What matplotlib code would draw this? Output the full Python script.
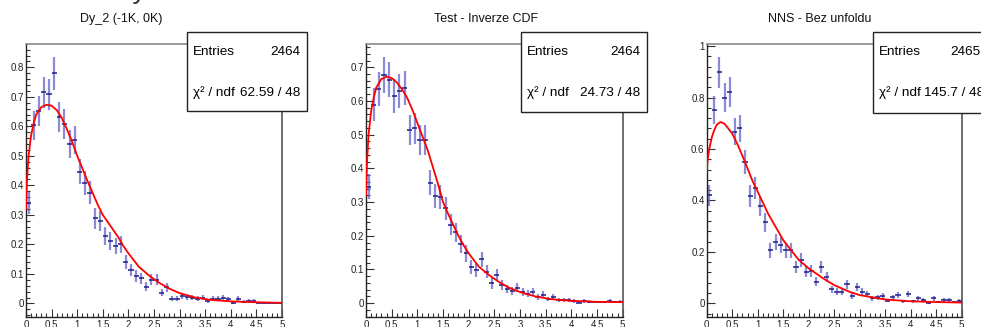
import matplotlib
matplotlib.use("Agg")
import matplotlib.pyplot as plt
import numpy as np
from matplotlib.patches import Rectangle
from matplotlib.ticker import MultipleLocator

plt.rcParams['font.family'] = ['Liberation Sans', 'DejaVu Sans']

W, H = 981, 327

# ---------------- data ----------------
bin_edges = np.linspace(0.0, 5.0, 51)
bin_centers = 0.5 * (bin_edges[:-1] + bin_edges[1:])
bin_width = 0.1

titles = ["Dy_2 (-1K, 0K)", "Test - Inverze CDF", "NNS - Bez unfoldu"]
entries = [2464, 2464, 2465]
chi2_texts = ["62.59 / 48", "24.73 / 48", "145.7 / 48"]

values_dy2 = [0.34, 0.604, 0.652, 0.715, 0.708, 0.78, 0.633, 0.608, 0.54, 0.554,
              0.446, 0.407, 0.375, 0.288, 0.28, 0.228, 0.212, 0.194, 0.2, 0.141,
              0.113, 0.093, 0.085, 0.056, 0.081, 0.081, 0.036, 0.054, 0.016, 0.016,
              0.026, 0.022, 0.02, 0.016, 0.019, 0.009, 0.016, 0.016, 0.019, 0.014,
              0.002, 0.016, 0.006, 0.009, 0.009, 0.003, 0.003, 0.003, 0.003, 0.003]

values_cdf = [0.346, 0.589, 0.635, 0.677, 0.663, 0.615, 0.63, 0.638, 0.514, 0.519,
              0.483, 0.485, 0.358, 0.319, 0.316, 0.282, 0.233, 0.21, 0.176, 0.148,
              0.107, 0.099, 0.13, 0.094, 0.059, 0.084, 0.054, 0.042, 0.037, 0.046,
              0.034, 0.028, 0.034, 0.018, 0.025, 0.012, 0.018, 0.01, 0.009, 0.009,
              0.007, 0.002, 0.006, 0.004, 0.003, 0.003, 0.003, 0.007, 0.003, 0.004]

values_nns = [0.42, 0.751, 0.898, 0.80, 0.822, 0.667, 0.68, 0.55, 0.417, 0.447,
              0.378, 0.315, 0.207, 0.237, 0.227, 0.207, 0.207, 0.142, 0.168, 0.123,
              0.125, 0.084, 0.14, 0.103, 0.054, 0.045, 0.045, 0.074, 0.028, 0.064,
              0.045, 0.036, 0.019, 0.024, 0.028, 0.01, 0.024, 0.032, 0.008, 0.036,
              0.008, 0.019, 0.012, 0.002, 0.019, 0.005, 0.012, 0.012, 0.005, 0.01]

# fitted curves
fit_x_dy2 = [0.0, 0.02, 0.05, 0.1, 0.15, 0.2, 0.3, 0.4, 0.5, 0.6, 0.7, 0.8, 0.9, 1.0,
             1.1, 1.2, 1.3, 1.4, 1.5, 1.6, 1.7, 1.8, 1.9, 2.0, 2.2, 2.4, 2.6, 2.8,
             3.0, 3.3, 3.6, 4.0, 4.5, 5.0]
fit_y_dy2 = [0.32, 0.42, 0.50, 0.57, 0.61, 0.64, 0.665, 0.673, 0.67, 0.655, 0.628,
             0.59, 0.548, 0.50, 0.458, 0.415, 0.375, 0.335, 0.30, 0.275, 0.25, 0.225,
             0.195, 0.17, 0.125, 0.095, 0.07, 0.05, 0.035, 0.02, 0.012, 0.007, 0.004,
             0.002]

fit_x_cdf = [0.0, 0.02, 0.05, 0.1, 0.15, 0.2, 0.3, 0.4, 0.5, 0.6, 0.7, 0.8, 0.9, 1.0,
             1.1, 1.2, 1.3, 1.4, 1.5, 1.6, 1.7, 1.8, 1.9, 2.0, 2.2, 2.4, 2.6, 2.8,
             3.0, 3.3, 3.6, 4.0, 4.5, 5.0]
fit_y_cdf = [0.32, 0.42, 0.50, 0.57, 0.61, 0.64, 0.665, 0.672, 0.668, 0.655, 0.635,
             0.61, 0.575, 0.535, 0.495, 0.455, 0.405, 0.355, 0.30, 0.265, 0.232, 0.2,
             0.172, 0.148, 0.108, 0.083, 0.062, 0.045, 0.033, 0.02, 0.012, 0.007,
             0.004, 0.003]

fit_x_nns = [0.0, 0.02, 0.05, 0.1, 0.15, 0.2, 0.27, 0.35, 0.5, 0.6, 0.75, 0.9, 1.0,
             1.2, 1.5, 1.8, 2.0, 2.3, 2.5, 2.8, 3.0, 3.5, 4.0, 4.5, 5.0]
fit_y_nns = [0.51, 0.56, 0.60, 0.645, 0.675, 0.695, 0.705, 0.698, 0.66, 0.62, 0.55,
             0.475, 0.434, 0.35, 0.246, 0.17, 0.136, 0.095, 0.071, 0.045, 0.032,
             0.015, 0.008, 0.005, 0.003]

panels = [
    dict(values=values_dy2, fx=fit_x_dy2, fy=fit_y_dy2, ylim=(-0.046, 0.879),
         major=0.1, minor=0.02, ax_px=(26, 282), box=(187.3, 31.7, 307.3, 111),
         title_x=121.5, rx_e=300.7, rx_c=300.7),
    dict(values=values_cdf, fx=fit_x_cdf, fy=fit_y_cdf, ylim=(-0.041, 0.769),
         major=0.1, minor=0.02, ax_px=(366, 622.7), box=(521, 31.7, 647.3, 112),
         title_x=486.5, rx_e=640, rx_c=640),
    dict(values=values_nns, fx=fit_x_nns, fy=fit_y_nns, ylim=(-0.053, 1.008),
         major=0.2, minor=0.04, ax_px=(706.7, 961.7), box=(873.3, 31.7, 1000, 113),
         title_x=819.7, rx_e=981, rx_c=984),
]

fig = plt.figure(figsize=(W / 100, H / 100), dpi=100)
fig.patch.set_facecolor('white')

ax_top, ax_bot = 44, 317


def fx(px):
    return px / W


def fy(py):
    return 1 - py / H


# heading that is cut off at the very top of the picture
fig.text(fx(0), fy(-1.5), "Srovnání vyrovnání na datasu", fontsize=20,
         color='#333333', ha='left', va='baseline')

for i, p in enumerate(panels):
    l, r = p['ax_px']
    ax = fig.add_axes([fx(l), fy(ax_bot), (r - l) / W, (ax_bot - ax_top) / H])
    vals = np.array(p['values'])
    n = entries[i] * bin_width
    err = np.sqrt(vals * n) / n
    ax.errorbar(bin_centers, vals, yerr=err, fmt='none', ecolor='#6464c8',
                elinewidth=1.6, alpha=0.75, capsize=0, zorder=2)
    ax.errorbar(bin_centers, vals, xerr=bin_width / 2, fmt='none',
                ecolor='#1c1c8a', elinewidth=1.1, capsize=0, zorder=3)
    ax.plot(p['fx'], p['fy'], color='#ff0000', lw=1.3, zorder=4,
            solid_capstyle='round', solid_joinstyle='round')
    ax.set_xlim(0, 5)
    ax.set_ylim(*p['ylim'])
    ax.xaxis.set_major_locator(MultipleLocator(0.5))
    ax.xaxis.set_minor_locator(MultipleLocator(0.1))
    ax.yaxis.set_major_locator(MultipleLocator(p['major']))
    ax.yaxis.set_minor_locator(MultipleLocator(p['minor']))
    ax.xaxis.set_major_formatter(plt.FuncFormatter(lambda v, _: f"{v:g}"))
    ax.yaxis.set_major_formatter(plt.FuncFormatter(lambda v, _: f"{v:g}"))
    ax.tick_params(axis='both', which='major', direction='in', length=6,
                   width=0.8, color='#333333', labelsize=7, labelcolor='#222222')
    ax.tick_params(axis='both', which='minor', direction='in', length=3,
                   width=0.8, color='#333333')
    ax.tick_params(axis='x', which='both', top=False, pad=2)
    ax.tick_params(axis='y', which='both', right=False, pad=1.5)
    for s in ['left', 'bottom']:
        ax.spines[s].set_color('#222222')
        ax.spines[s].set_linewidth(1.0)
    ax.spines['top'].set_color('#8a8a8a')
    ax.spines['right'].set_color('#555555')
    ax.spines['top'].set_linewidth(1.2)
    ax.spines['right'].set_linewidth(1.2)

    # title
    fig.text(fx(p['title_x']), fy(19), titles[i], ha='center', va='center',
             fontsize=9, color='#111111')

    # stats box
    x0, y0, x1, y1 = p['box']
    fig.add_artist(Rectangle((fx(x0), fy(y1)), (x1 - x0) / W, (y1 - y0) / H,
                             transform=fig.transFigure, facecolor='white',
                             edgecolor='#222222', lw=1.0, zorder=10))
    tx = x0 + 6
    fig.text(fx(tx), fy(52), "Entries", ha='left', va='center', fontsize=9.7,
             zorder=11)
    fig.text(fx(p['rx_e']), fy(52), f"{entries[i]}", ha='right', va='center',
             fontsize=9.7, zorder=11)
    fig.text(fx(tx), fy(92.5), "χ² / ndf", ha='left', va='center', fontsize=9.7,
             zorder=11)
    fig.text(fx(p['rx_c']), fy(92.5), chi2_texts[i], ha='right', va='center',
             fontsize=9.7, zorder=11)

fig.savefig("out.png", dpi=100)
